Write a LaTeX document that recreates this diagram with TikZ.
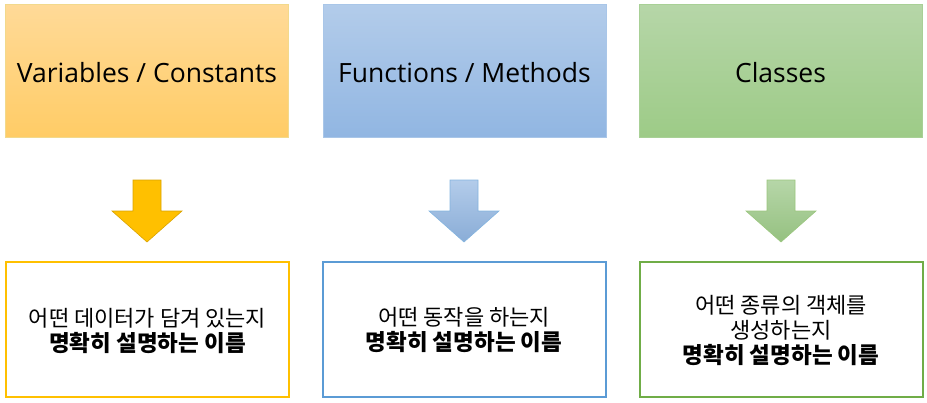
\documentclass[tikz,border=0pt]{standalone}
\usepackage{fontspec}
\setmainfont{Open Sans}
\newfontfamily\kr{Noto Sans CJK KR}
\definecolor{orTop}{HTML}{FFDA98}
\definecolor{orBot}{HTML}{FFCC66}
\definecolor{orLine}{HTML}{FFC000}
\definecolor{orEdge}{HTML}{F2D98C}
\definecolor{blTop}{HTML}{B3CCEA}
\definecolor{blBot}{HTML}{91B6E2}
\definecolor{blLine}{HTML}{5B9BD5}
\definecolor{blEdge}{HTML}{A9C6E8}
\definecolor{grTop}{HTML}{B6D6A8}
\definecolor{grBot}{HTML}{9DCB87}
\definecolor{grLine}{HTML}{70AD47}
\definecolor{grEdge}{HTML}{A8D096}
\tikzset{
  topbox/.style={minimum width=283pt, minimum height=133pt, inner sep=0pt,
    line width=0.6pt},
  toplabel/.style={inner sep=0pt, text=black, font=\fontsize{26.5}{30}\selectfont},
  botbox/.style={minimum width=283pt, minimum height=135pt, inner sep=0pt,
    line width=2pt, fill=white},
  bottext/.style={align=center, inner sep=0pt, text=black,
    font=\kr\fontsize{22}{25}\selectfont},
  blockarrow/.style={line width=0.6pt, line join=miter}
}
\newcommand{\boldline}{\bfseries\fontsize{22.5}{25}\selectfont}
\newcommand{\dnarrow}[4]{%
  \path[blockarrow, draw=#2, top color=#3, bottom color=#4]
    ($(#1)+(-14,0)$) -- ($(#1)+(14,0)$) -- ($(#1)+(14,31)$) -- ($(#1)+(35,31)$)
    -- ($(#1)+(0,62)$) -- ($(#1)+(-35,31)$) -- ($(#1)+(-14,31)$) -- cycle;}
\usetikzlibrary{calc}
\begin{document}
\begin{tikzpicture}[x=1pt, y=-1pt]
\useasboundingbox (0,0) rectangle (927,402);
% top boxes
\node[topbox, draw=orEdge, top color=orTop, bottom color=orBot] (v) at (147,70.5) {};
\node[topbox, draw=blEdge, top color=blTop, bottom color=blBot] (f) at (464.5,70.5) {};
\node[topbox, draw=grEdge, top color=grTop, bottom color=grBot] (c) at (780.5,70.5) {};
\node[toplabel] (vl) at ($(v.center)+(0,2.5)$) {Variables / Constants};
\node[toplabel] (fl) at ($(f.center)+(0,2.5)$) {Functions / Methods};
\node[toplabel] (cl) at ($(c.center)+(0,2.5)$) {Classes};
% arrow anchors
\coordinate (av) at (147,180);
\coordinate (af) at (464,180);
\coordinate (ac) at (781,180);
\dnarrow{av}{orLine!85!black}{orLine}{orLine}
\dnarrow{af}{blLine!75}{blTop}{blBot!95!black}
\dnarrow{ac}{grLine!70}{grTop}{grBot!95!black}
% bottom boxes
\node[botbox, draw=orLine] (bv) at (147.5,329.5) {};
\node[botbox, draw=blLine] (bf) at (464,329.5) {};
\node[botbox, draw=grLine] (bc) at (781,329.5) {};
\node[bottext] (tv) at ($(bv.center)+(0,1.5)$) {어떤 데이터가 담겨 있는지\\{\boldline 명확히 설명하는 이름}};
\node[bottext] (tf) at ($(bf.center)+(0,0)$) {어떤 동작을 하는지\\{\boldline 명확히 설명하는 이름}};
\node[bottext] (tc) at ($(bc.center)+(0,0.5)$) {어떤 종류의 객체를\\생성하는지\\{\boldline 명확히 설명하는 이름}};
\end{tikzpicture}
\end{document}
